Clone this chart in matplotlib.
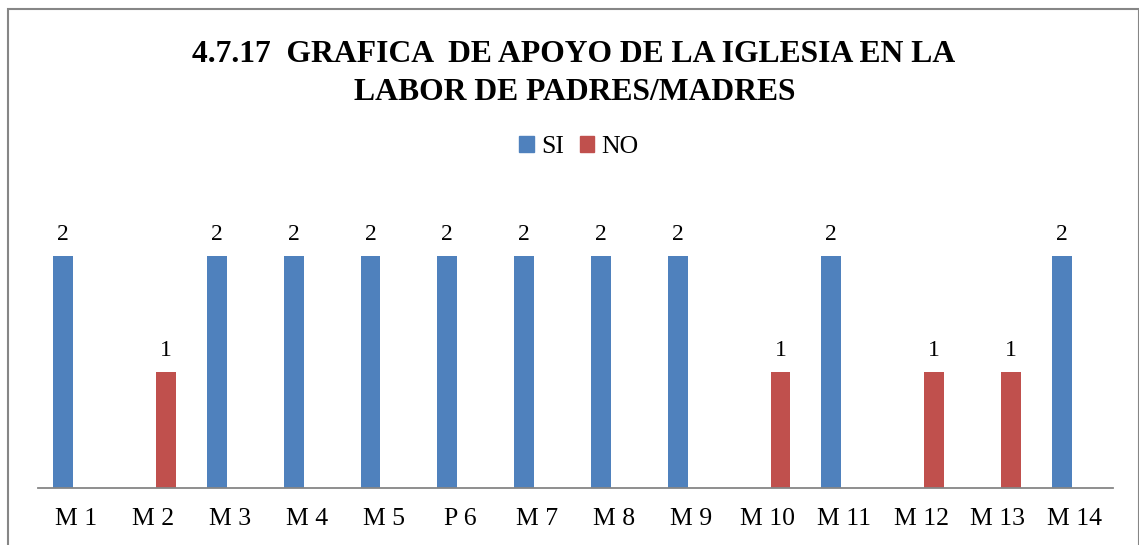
import numpy as np
import matplotlib
matplotlib.use('Agg')
import matplotlib.pyplot as plt
from matplotlib.patches import Rectangle, Patch

plt.rcParams['font.family'] = ['Liberation Serif', 'DejaVu Serif']

# Data
categories = ['M 1', 'M 2', 'M 3', 'M 4', 'M 5', 'P 6', 'M 7',
              'M 8', 'M 9', 'M 10', 'M 11', 'M 12', 'M 13', 'M 14']
si_values = [2, np.nan, 2, 2, 2, 2, 2, 2, 2, np.nan, 2, np.nan, np.nan, 2]
no_values = [np.nan, 1, np.nan, np.nan, np.nan, np.nan, np.nan,
             np.nan, np.nan, 1, np.nan, 1, 1, np.nan]

blue = '#4F81BD'
red = '#C0504D'
grey = '#868686'

fig = plt.figure(figsize=(11.39, 5.45), dpi=100)
ax = fig.add_axes([38 / 1139, 57 / 545, 1075 / 1139, 290 / 545])

x = np.arange(len(categories))
w = 0.26
off = 0.17
ax.bar(x - off, si_values, width=w, color=blue, label='SI')
ax.bar(x + off, no_values, width=w, color=red, label='NO')

# Value labels
for xs, vals in [(x - off, si_values), (x + off, no_values)]:
    for xi, v in zip(xs, vals):
        if not np.isnan(v):
            ax.annotate(f'{int(v)}', xy=(xi, v), xytext=(0, 11.5),
                        textcoords='offset points', ha='center',
                        va='baseline', fontsize=17)

ax.set_xlim(-0.5, len(categories) - 0.5)
ax.set_ylim(0, 2.5)
ax.set_xticks(x)
ax.set_xticklabels(categories, fontsize=18.5)
ax.tick_params(axis='x', length=0, pad=14.5)
ax.set_yticks([])
for s in ['top', 'right', 'left']:
    ax.spines[s].set_visible(False)
ax.spines['bottom'].set_color(grey)
ax.spines['bottom'].set_linewidth(1.3)

# Title
fig.text(574 / 1139, 1 - 62 / 545, '4.7.17  GRAFICA  DE APOYO DE LA IGLESIA EN LA',
         ha='center', va='baseline', fontsize=22.8, fontweight='bold')
fig.text(575 / 1139, 1 - 100 / 545, 'LABOR DE PADRES/MADRES',
         ha='center', va='baseline', fontsize=22.8, fontweight='bold')

# Legend
handles = [Patch(color=blue, label='SI'), Patch(color=red, label='NO')]
fig.legend(handles=handles, loc='center', bbox_to_anchor=(579 / 1139, 1 - 147 / 545),
           ncol=2, frameon=False, fontsize=18.5, handlelength=0.55, handleheight=0.55,
           handletextpad=0.3, columnspacing=0.6)

# Outer chart border
fig.patches.append(Rectangle((8 / 1139, -0.05), 1131 / 1139, 1.05 - 9.5 / 545,
                             transform=fig.transFigure, fill=False,
                             edgecolor=grey, linewidth=1.5, clip_on=False))

fig.savefig('out.png', dpi=100)
